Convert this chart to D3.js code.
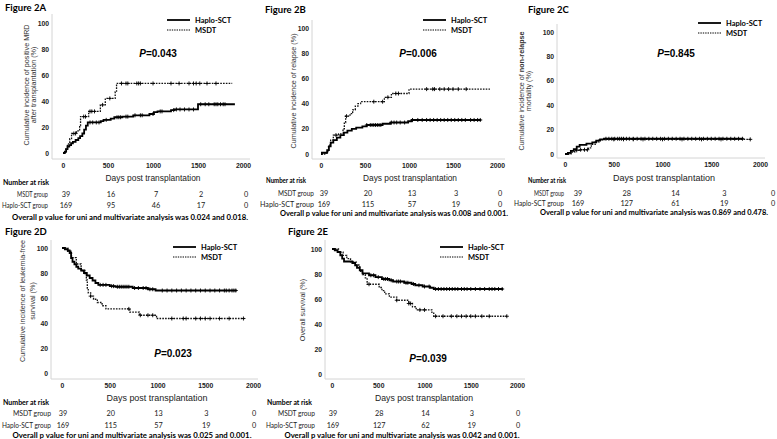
<!DOCTYPE html>
<html>
<head>
<meta charset="utf-8">
<script src="https://cdn.jsdelivr.net/npm/d3@7"></script>
<style>
  body { margin: 0; background: #fff; }
  svg { display: block; }
  .cal { font-family: Lato, "Open Sans", sans-serif; }
  .ari { font-family: "Liberation Sans", Arial, sans-serif; }
</style>
</head>
<body>
<svg id="fig" width="777" height="439"></svg>
<script>
// ---- shared labels / ticks ----
const dayTicks = [0, 500, 1000, 1500, 2000];
const pctTicks = [0, 20, 40, 60, 80, 100];
const seriesNames = ["Haplo-SCT", "MSDT"];
const groupNames = ["MSDT group", "Haplo-SCT group"];

// ---- Figure 2A: positive MRD ----
const haploA = [[0,0],[20,1],[35,3],[50,5],[70,6],[90,7.5],[110,8.5],[140,10],[170,11.5],[190,13],[215,15],[235,18],[255,21],[275,23.5],[420,24.5],[450,25.5],[530,26.5],[570,27.5],[660,28],[780,29],[960,30],[1010,31.5],[1050,32],[1200,33],[1240,33.5],[1500,37.5],[1910,37.5]];
const msdtA = [[0,0],[30,3],[50,7],[75,11],[95,15],[150,17],[185,21],[195,28],[285,32],[415,37],[470,42],[580,47],[595,53.5],[1880,53.5]];
const haploCensA = [300,330,370,400,480,600,620,640,700,720,800,860,880,1000,1080,1100,1230,1260,1300,1350,1400,1450,1530,1580,1620,1680,1700,1720,1750,1780,1800];
const msdtCensA = [120,140,230,250,300,320,350,440,520,650,700,720,820,840,860,1000,1200,1290,1400,1450,1480,1520,1600,1700];
const riskMsdtA = [39, 16, 7, 2, 0];
const riskHaploA = [169, 95, 46, 17, 0];

// ---- Figure 2B: relapse ----
const haploB = [[0,0],[10,1],[60,1],[70,3],[90,6],[110,9],[140,11],[180,13],[220,15],[260,17],[300,18.5],[350,20],[400,21],[470,22],[520,23],[700,24],[790,25],[990,26],[1030,27],[1820,27]];
const msdtB = [[0,0],[60,2],[85,7],[110,11],[140,15],[200,16],[250,20],[265,25],[280,30],[330,32],[360,35],[390,38],[420,40],[450,41.5],[720,45],[800,48],[1000,51.5],[1920,51.5]];
const haploCensB = [520,560,580,600,620,640,660,680,800,830,860,900,950,1040,1100,1150,1200,1240,1280,1320,1360,1400,1440,1480,1520,1560,1600,1640,1700,1740,1780,1810];
const msdtCensB = [170,290,600,700,760,850,880,1200,1270,1290,1350,1400,1450,1500,1560,1650];
const riskMsdtB = [39, 20, 13, 3, 0];
const riskHaploB = [169, 115, 57, 19, 0];

// ---- Figure 2C: non-relapse mortality ----
const haploC = [[0,0],[30,1],[60,2.5],[90,4],[120,6],[150,7.5],[220,8.5],[280,9.5],[320,11],[360,12],[400,12.5],[1830,12.5]];
const msdtC = [[0,0],[60,1.5],[100,3],[150,3.5],[240,5],[270,8],[310,10],[350,11.5],[400,12],[1900,12]];
const haploCensC = [420,450,480,510,540,560,580,600,630,660,700,740,780,820,860,900,940,980,1020,1060,1100,1140,1180,1220,1260,1300,1340,1380,1420,1460,1500,1540,1580,1620,1660,1700,1740,1780,1820];
const msdtCensC = [120,160,200,230,500,600,700,800,1000,1200,1400,1600,1900];
const riskMsdtC = [39, 28, 14, 3, 0];
const riskHaploC = [169, 127, 61, 19, 0];

// ---- Figure 2D: leukemia-free survival ----
const haploD = [[0,100],[30,99],[60,98],[80,96],[95,92],[110,89],[130,87],[150,85],[170,83.5],[200,82],[230,80],[260,78],[290,76],[320,74],[350,72],[380,70.5],[500,69.5],[560,69],[740,68],[900,67],[980,66],[1830,66]];
const msdtD = [[0,100],[60,97.4],[100,92.3],[150,87.2],[200,82],[240,79.5],[255,74.4],[265,66.7],[275,64.1],[300,61.5],[330,59],[370,56.4],[420,53.8],[460,51.3],[710,48.7],[810,46.2],[990,43.6],[1910,43.6]];
const haploCensD = [400,430,460,520,540,580,600,620,640,660,680,700,760,800,850,880,920,950,1050,1100,1150,1200,1250,1300,1350,1400,1450,1500,1550,1600,1650,1700,1720,1750,1780,1800,1820];
const msdtCensD = [300,700,820,900,950,1150,1270,1300,1400,1450,1500,1550,1650,1750,1900];
const riskMsdtD = [39, 20, 13, 3, 0];
const riskHaploD = [169, 115, 57, 19, 0];

// ---- Figure 2E: overall survival ----
const haploE = [[0,100],[30,99],[60,97.6],[90,95],[110,92.3],[130,90],[220,88.8],[250,87],[270,85],[300,83],[330,80.5],[400,79],[470,77.5],[540,76],[620,75],[660,74],[780,73],[860,72],[900,71],[980,70],[1060,69],[1100,68],[1850,68]];
const msdtE = [[0,100],[70,97.4],[120,94.9],[160,92.3],[200,89.7],[260,87.2],[300,82.1],[330,79.5],[360,76.9],[380,71.8],[510,69.2],[540,66.7],[570,64.1],[620,61.5],[700,59],[830,56.4],[870,53.8],[910,51.3],[1080,48.7],[1100,46.2],[1890,46.2]];
const haploCensE = [420,450,500,560,580,600,640,700,720,740,800,820,880,940,1000,1050,1120,1150,1180,1210,1240,1270,1300,1330,1360,1400,1430,1460,1500,1550,1600,1650,1700,1730,1760,1800,1840];
const msdtCensE = [400,700,830,850,950,1000,1120,1200,1290,1350,1400,1450,1500,1550,1620,1700,1890];
const riskMsdtE = [39, 28, 14, 3, 0];
const riskHaploE = [169, 127, 62, 19, 0];

const pValues = ["0.043", "0.006", "0.845", "0.023", "0.039"];
const overallTexts = [
  "Overall p value for uni and multivariate analysis was 0.024 and 0.018.",
  "Overall p value for uni and multivariate analysis was 0.008 and 0.001.",
  "Overall p value for uni and multivariate analysis was 0.869 and 0.478.",
  "Overall p value for uni and multivariate analysis was 0.025 and 0.001.",
  "Overall p value for uni and multivariate analysis was 0.042 and 0.001."
];

// layout for each panel (pixel positions and text widths only)
const panels = [
  {title: "Figure 2A", tx: 5, ty: 8, x0: 63, x1: 243, y0: 153, y100: 23, ax: 52, ay: 159, top: 14, right: 250,
   legX: 167, legY: 20, pX: 158, pY: 53, yl: ["Cumulative incidence of positive MRD", "after transplantation (%)"], ylX: [26, 33], ylY: 85,
   daysX: 153, daysY: 178, daysW: 95, narX: 3, narY: 182, narW: 46, grpX: 48, grpW: [31, 46], rows: [194, 205], riskDx: 3,
   ovX: 130, ovY: 217, ovW: 236,
   haplo: haploA, msdt: msdtA, hc: haploCensA, mc: msdtCensA, rm: riskMsdtA, rh: riskHaploA},
  {title: "Figure 2B", tx: 265, ty: 10, x0: 321, x1: 497, y0: 154, y100: 28, ax: 312, ay: 159, top: 20, right: 505,
   legX: 423, legY: 20, pX: 418, pY: 53, yl: ["Cumulative incidence of relapse (%)"], ylX: [293], ylY: 91,
   daysX: 410, daysY: 178, daysW: 94, narX: 266, narY: 180, narW: 40, grpX: 314, grpW: [36, 54], rows: [193, 204], riskDx: 3,
   ovX: 394, ovY: 213, ovW: 228,
   haplo: haploB, msdt: msdtB, hc: haploCensB, mc: msdtCensB, rm: riskMsdtB, rh: riskHaploB},
  {title: "Figure 2C", tx: 528, ty: 10, x0: 565, x1: 760, y0: 154, y100: 32, ax: 557, ay: 158, top: 24, right: 765,
   legX: 698, legY: 23, pX: 676, pY: 53, yl: ["Cumulative incidence of ", "mortality (%)"], ylBold: "non-relapse", ylX: [521, 528], ylY: 91,
   daysX: 664, daysY: 178, daysW: 102, narX: 528, narY: 180, narW: 38, grpX: 564, grpW: [30, 50], rows: [193, 203], riskDx: 13,
   ovX: 654, ovY: 212, ovW: 228,
   haplo: haploC, msdt: msdtC, hc: haploCensC, mc: msdtCensC, rm: riskMsdtC, rh: riskHaploC},
  {title: "Figure 2D", tx: 5, ty: 232, x0: 62, x1: 253, y0: 373, y100: 248, ax: 51, ay: 379, top: 240, right: 258,
   legX: 173, legY: 247, pX: 173, pY: 353, yl: ["Cumulative incidence of leukemia-free", "survival (%)"], ylX: [22, 32], ylY: 301,
   daysX: 157, daysY: 398, daysW: 101, narX: 3, narY: 402, narW: 46, grpX: 51, grpW: [38, 49], rows: [413, 425], riskDx: 1,
   ovX: 132, ovY: 435, ovW: 239,
   haplo: haploD, msdt: msdtD, hc: haploCensD, mc: msdtCensD, rm: riskMsdtD, rh: riskHaploD},
  {title: "Figure 2E", tx: 288, ty: 232, x0: 332, x1: 517, y0: 374, y100: 249, ax: 325, ay: 379, top: 240, right: 525,
   legX: 440, legY: 247, pX: 428, pY: 358, yl: ["Overall survival (%)"], ylX: [302], ylY: 310,
   daysX: 424, daysY: 398, daysW: 98, narX: 267, narY: 402, narW: 45, grpX: 315, grpW: [37, 49], rows: [413, 425], riskDx: 1,
   ovX: 402, ovY: 435, ovW: 235,
   haplo: haploE, msdt: msdtE, hc: haploCensE, mc: msdtCensE, rm: riskMsdtE, rh: riskHaploE}
];

const svg = d3.select("#fig");

function valueAt(steps, day) {
  let v = steps[0][1];
  for (const s of steps) { if (s[0] <= day) v = s[1]; }
  return v;
}

function fitText(sel, w) {
  return sel.attr("textLength", w).attr("lengthAdjust", "spacingAndGlyphs");
}

function drawPanel(p, i) {
  const g = svg.append("g");
  const x = d3.scaleLinear().domain([0, 2000]).range([p.x0, p.x1]);
  const y = d3.scaleLinear().domain([0, 100]).range([p.y0, p.y100]);

  // title
  g.append("text").attr("class", "cal").attr("x", p.tx).attr("y", p.ty).attr("dy", "0.35em")
    .attr("font-size", 9.5).attr("font-weight", "bold").text(p.title);

  // frame lines
  g.append("line").attr("x1", p.ax).attr("x2", p.right).attr("y1", p.ay).attr("y2", p.ay)
    .attr("stroke", "#d4d4d4").attr("stroke-width", 1);
  g.append("line").attr("x1", p.ax).attr("x2", p.ax).attr("y1", p.top).attr("y2", p.ay)
    .attr("stroke", "#d4d4d4").attr("stroke-width", 1);

  // axes
  const xa = g.append("g").attr("transform", `translate(0,${p.ay})`)
    .call(d3.axisBottom(x).tickValues(dayTicks).tickFormat(d3.format("d")).tickSize(0).tickPadding(4));
  const ya = g.append("g").attr("transform", `translate(${p.ax},0)`)
    .call(d3.axisLeft(y).tickValues(pctTicks).tickFormat(d3.format("d")).tickSize(0).tickPadding(3));
  [xa, ya].forEach(a => {
    a.select(".domain").remove();
    a.selectAll("text").attr("class", "ari").attr("font-size", 6.8).attr("font-weight", "bold").attr("fill", "#222");
  });

  // y label
  const yl = g.append("text").attr("class", "ari").attr("font-size", 7.2).attr("fill", "#333")
    .attr("text-anchor", "middle")
    .attr("transform", `translate(${p.ylX[0]},${p.ylY}) rotate(-90)`).attr("dy", "0.35em");
  yl.append("tspan").text(p.yl[0]);
  if (p.ylBold) yl.append("tspan").attr("font-weight", "bold").text(p.ylBold);
  if (p.yl.length > 1) {
    g.append("text").attr("class", "ari").attr("font-size", 7.2).attr("fill", "#333")
      .attr("text-anchor", "middle")
      .attr("transform", `translate(${p.ylX[1]},${p.ylY}) rotate(-90)`).attr("dy", "0.35em")
      .text(p.yl[1]);
  }

  // curves
  const line = d3.line().x(d => x(d[0])).y(d => y(d[1])).curve(d3.curveStepAfter);
  g.append("path").datum(p.msdt).attr("d", line).attr("fill", "none")
    .attr("stroke", "#111").attr("stroke-width", 1.3).attr("stroke-dasharray", "1.6,1.2");
  g.append("path").datum(p.haplo).attr("d", line).attr("fill", "none")
    .attr("stroke", "#000").attr("stroke-width", 1.8);

  // censor marks
  const cross = (steps, days) => g.append("g").selectAll("path").data(days).join("path")
    .attr("d", d => {
      const cx = x(d), cy = y(valueAt(steps, d));
      return `M${cx - 2},${cy}h4M${cx},${cy - 2}v4`;
    })
    .attr("stroke", "#000").attr("stroke-width", 0.9);
  cross(p.msdt, p.mc);
  cross(p.haplo, p.hc);

  // legend
  const lg = g.append("g").attr("transform", `translate(${p.legX},${p.legY})`);
  seriesNames.forEach((name, k) => {
    lg.append("line").attr("x1", 0).attr("x2", 23).attr("y1", k * 10).attr("y2", k * 10)
      .attr("stroke", "#000")
      .attr("stroke-width", k === 0 ? 1.8 : 1)
      .attr("stroke-dasharray", k === 0 ? null : "1.4,1");
    lg.append("text").attr("class", "cal").attr("x", 28).attr("y", k * 10).attr("dy", "0.35em")
      .attr("font-size", 7.5).attr("font-weight", "bold").text(name);
  });

  // P value
  const pt = g.append("text").attr("class", "ari").attr("x", p.pX).attr("y", p.pY).attr("dy", "0.35em")
    .attr("text-anchor", "middle").attr("font-size", 10).attr("font-weight", "bold");
  pt.append("tspan").attr("font-style", "italic").text("P");
  pt.append("tspan").text("=" + pValues[i]);

  // x label
  fitText(g.append("text").attr("class", "ari").attr("x", p.daysX - p.daysW / 2).attr("y", p.daysY).attr("dy", "0.35em")
    .attr("font-size", 9.5).attr("fill", "#222").text("Days post transplantation"), p.daysW);

  // number at risk table
  fitText(g.append("text").attr("class", "cal").attr("x", p.narX).attr("y", p.narY).attr("dy", "0.35em")
    .attr("font-size", 7.3).attr("font-weight", "bold").text("Number at risk"), p.narW);
  [p.rm, p.rh].forEach((vals, r) => {
    fitText(g.append("text").attr("class", "cal").attr("x", p.grpX - p.grpW[r]).attr("y", p.rows[r]).attr("dy", "0.35em")
      .attr("font-size", 7.3).attr("fill", "#222").text(groupNames[r]), p.grpW[r]);
    g.append("g").selectAll("text").data(vals).join("text").attr("class", "cal")
      .attr("x", (d, k) => x(dayTicks[k]) + p.riskDx).attr("y", p.rows[r]).attr("dy", "0.35em")
      .attr("text-anchor", "middle").attr("font-size", 7.3).attr("fill", "#222").text(d => d);
  });

  // font size chosen so the natural width is close to the target width
  fitText(g.append("text").attr("class", "cal").attr("x", p.ovX - p.ovW / 2).attr("y", p.ovY).attr("dy", "0.35em")
    .attr("font-size", p.ovW / 30.5).attr("font-weight", "bold").text(overallTexts[i]), p.ovW);
}

panels.forEach(drawPanel);
</script>
</body>
</html>
